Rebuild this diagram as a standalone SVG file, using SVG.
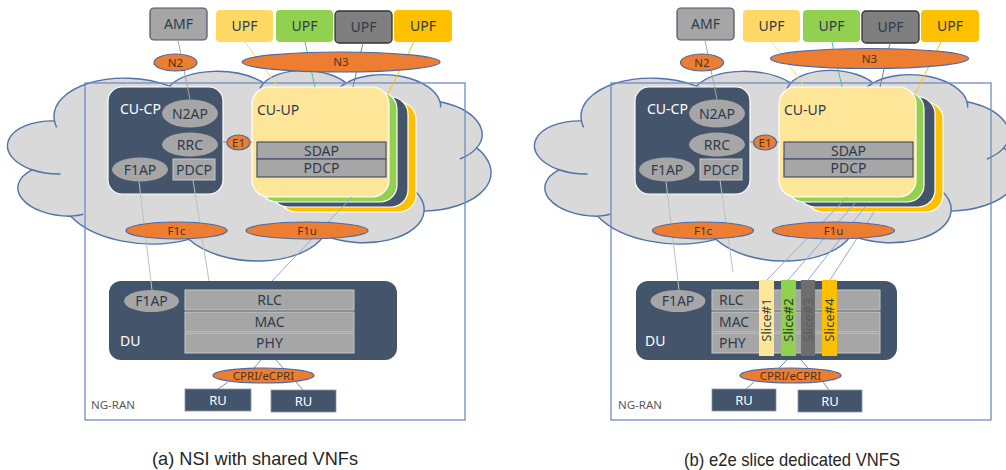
<svg xmlns="http://www.w3.org/2000/svg" width="1006" height="470" viewBox="0 0 1006 470">
  <defs>
    <style>
      text { font-family: "Noto Sans", "DejaVu Sans", sans-serif; }
      .cloud { fill: #d9d9d9; stroke: #4f72aa; stroke-width: 1.4; vector-effect: non-scaling-stroke; }
      .cloudin { fill: none; stroke: #4f72aa; stroke-width: 1.4; vector-effect: non-scaling-stroke; }
      .ran { fill: none; stroke: #6f8cc0; stroke-width: 1.3; }
      .ranlbl { font-size: 11.5px; fill: #595959; }
      .dark { fill: #44546a; }
      .box { stroke: #ffffff; stroke-width: 1.2; }
      .grey { fill: #a6a6a6; }
      .layer { fill: #a6a6a6; stroke: #c8c8c8; stroke-width: 1; }
      .layer2 { fill: #a6a6a6; stroke: #44546a; stroke-width: 1.2; }
      .itf { fill: #ed7d31; stroke: #4a6aa5; stroke-width: 1.2; }
      .lbl { font-size: 14px; fill: #2f3b4c; text-anchor: middle; }
      .lbll { font-size: 14px; fill: #2f3b4c; }
      .wl { font-size: 14px; fill: #ffffff; }
      .wc { font-size: 13px; fill: #ffffff; text-anchor: middle; }
      .il { font-size: 11.5px; fill: #4a3420; text-anchor: middle; }
      .sl { font-size: 13px; text-anchor: middle; }
      .cap { font-family: "Liberation Sans", Arial, sans-serif; font-size: 19px; fill: #262626; text-anchor: middle; }
      .ln { fill: none; stroke-width: 1; }
      .cp { stroke: #bfbfbf; }
      .up { stroke: #8faadc; }
      .gr { stroke: #8a8a8a; }
      .ru { stroke: #7f8fa6; }
    </style>
    <!-- office-style cloud outline, drawn in a 43200 x 43200 unit box -->
    <g id="cloud">
      <path class="cloud" d="M3900 14370 A6753 9190 0 0 1 14007 5204 A5333 7267 0 0 1 22458 3432 A4365 5945 0 0 1 29835 2480 A4857 6595 0 0 1 38320 5576 A5333 7273 0 0 1 41821 15460 A6775 9220 0 0 1 37406 30201 A5785 7867 0 0 1 28557 36811 A6752 9215 0 0 1 16483 39266 A7720 10543 0 0 1 5807 35473 A4360 5918 0 0 1 2114 25553 A4345 5945 0 0 1 3900 14370 Z"/>
      <path class="cloudin" d="M4693 26177 A4345 5945 0 0 1 2114 25553 M6928 34899 A4360 5918 0 0 1 5807 35473 M16483 39266 A6752 9215 0 0 1 15814 37523 M28827 34751 A6752 9215 0 0 1 28557 36811 M34129 22954 A5785 7867 0 0 1 37406 30201 M41821 15460 A5333 7273 0 0 1 40372 18137 M38320 5576 A4857 6595 0 0 1 38397 6839 M29078 3952 A4857 6595 0 0 1 29835 2480 M22141 4720 A4365 5945 0 0 1 22458 3432 M14007 5204 A6753 9190 0 0 1 15305 6551 M4127 15789 A6753 9190 0 0 1 3900 14370"/>
    </g>
  </defs>

  <rect width="1006" height="470" fill="#ffffff"/>

  <!-- ===== (a) shared VNFs ===== -->
  <g id="cloud-a"><use href="#cloud" transform="rotate(3 250 163) translate(9 67) scale(0.0111574 0.0044676)"/></g>
  <g id="ngran-a">
    <rect class="ran" x="85" y="83" width="380" height="337"/>
    <text class="ranlbl" x="91" y="409">NG-RAN</text>
  </g>

  <g id="amf-a"><rect x="150" y="8" width="57" height="32" rx="4" fill="#a6a6a6" stroke="#44546a" stroke-width="1.2"/><text class="lbl" x="178.5" y="29">AMF</text></g>
  <g id="upf1-a"><rect x="216" y="10" width="57" height="32" rx="4" fill="#ffd966"/><text class="lbl" x="244.5" y="31">UPF</text></g>
  <g id="upf2-a"><rect x="276" y="10" width="57" height="32" rx="4" fill="#92d050"/><text class="lbl" x="304.5" y="31">UPF</text></g>
  <g id="upf3-a"><rect x="335" y="11" width="57" height="32" rx="4" fill="#7f7f7f" stroke="#333333" stroke-width="1.3"/><text class="lbl" x="363.5" y="32">UPF</text></g>
  <g id="upf4-a"><rect x="394" y="10" width="58" height="32" rx="4" fill="#ffc000"/><text class="lbl" x="423" y="31">UPF</text></g>

  <g id="cucp-a">
    <rect class="dark box" x="108" y="87" width="115" height="107" rx="14"/>
    <text class="wl" x="120" y="113.5">CU-CP</text>
    <ellipse class="grey" cx="190" cy="113.5" rx="28" ry="14"/><text class="lbl" x="190" y="118.5">N2AP</text>
    <ellipse class="grey" cx="190" cy="144.5" rx="28" ry="12"/><text class="lbl" x="190" y="149.5">RRC</text>
    <ellipse class="grey" cx="140" cy="169.5" rx="28" ry="12"/><text class="lbl" x="140" y="174.5">F1AP</text>
    <rect class="layer" x="173" y="159" width="42" height="21"/><text class="lbl" x="194" y="174.5">PDCP</text>
  </g>

  <g id="cuup-a">
    <rect class="box" x="279" y="102" width="137" height="110" rx="17" fill="#ffc000"/>
    <rect class="box" x="271" y="97" width="137" height="110" rx="17" fill="#44546a"/>
    <rect class="box" x="260" y="92" width="137" height="110" rx="17" fill="#92d050"/>
    <rect class="box" x="252" y="87" width="137" height="110" rx="17" fill="#ffe699"/>
    <text class="lbll" x="257" y="114.5">CU-UP</text>
    <rect class="layer2" x="257" y="142" width="129" height="17"/><text class="lbl" x="321.5" y="155.5">SDAP</text>
    <rect class="layer2" x="257" y="159" width="129" height="18"/><text class="lbl" x="321.5" y="173">PDCP</text>
  </g>

  <g id="du-a">
    <rect class="dark" x="109" y="281" width="288" height="79" rx="12"/>
    <ellipse class="grey" cx="151.5" cy="301" rx="27.5" ry="11"/><text class="lbl" x="151.5" y="306">F1AP</text>
    <rect class="layer" x="185" y="290" width="169" height="20"/><text class="lbl" x="269.5" y="305">RLC</text>
    <rect class="layer" x="185" y="312" width="169" height="20"/><text class="lbl" x="269.5" y="327">MAC</text>
    <rect class="layer" x="185" y="333" width="169" height="20"/><text class="lbl" x="269.5" y="348">PHY</text>
    <text class="wl" x="120" y="346">DU</text>
  </g>
  <g id="ru1-a"><rect class="dark" x="185" y="389" width="66" height="22" stroke="#8497b0" stroke-width="0.8"/><text class="wc" x="218" y="405">RU</text></g>
  <g id="ru2-a"><rect class="dark" x="271" y="390" width="65" height="22" stroke="#8497b0" stroke-width="0.8"/><text class="wc" x="303.5" y="406">RU</text></g>

  <g id="connectors-a">
    <line class="ln" stroke="#a6a6a6" x1="178" y1="40" x2="190" y2="99.5"/>
    <line class="ln" stroke="#ffd966" x1="245" y1="42" x2="278" y2="87"/>
    <line class="ln" stroke="#4cc38a" x1="305" y1="42" x2="315" y2="87"/>
    <line class="ln" stroke="#7f7f7f" x1="363" y1="43" x2="353" y2="87"/>
    <line class="ln" stroke="#ffc000" x1="414" y1="42" x2="388" y2="94"/>
    <line class="ln gr" x1="223" y1="142" x2="252" y2="142"/>
    <line class="ln cp" x1="139" y1="181.5" x2="152" y2="290"/>
    <line class="ln cp" x1="193" y1="180" x2="209" y2="281"/>
    <line class="ln up" x1="352" y1="197" x2="272" y2="281"/>
    <line class="ln ru" x1="261" y1="360" x2="254" y2="368"/>
    <line class="ln ru" x1="276" y1="360" x2="283" y2="368"/>
    <line class="ln ru" x1="228" y1="382" x2="218" y2="389"/>
    <line class="ln ru" x1="296" y1="382" x2="303" y2="390"/>
  </g>

  <g id="n2-a"><ellipse class="itf" cx="175.5" cy="62.5" rx="21.5" ry="8.5"/><text class="il" x="175.5" y="66.5">N2</text></g>
  <g id="n3-a"><ellipse class="itf" cx="341" cy="62" rx="99" ry="10"/><text class="il" x="341" y="66">N3</text></g>
  <g id="e1-a"><ellipse class="itf" cx="238.5" cy="142.5" rx="11.5" ry="7.5"/><text class="il" x="238.5" y="147">E1</text></g>
  <g id="f1c-a"><ellipse class="itf" cx="176.5" cy="230.5" rx="50.5" ry="8.5"/><text class="il" x="176.5" y="235">F1c</text></g>
  <g id="f1u-a"><ellipse class="itf" cx="307" cy="230.5" rx="61" ry="8.5"/><text class="il" x="307" y="235">F1u</text></g>
  <g id="cpri-a"><ellipse class="itf" cx="263.5" cy="375.5" rx="50.5" ry="7.5"/><text class="il" x="263.5" y="380">CPRI/eCPRI</text></g>

  <text class="cap" x="255" y="465" textLength="206" lengthAdjust="spacingAndGlyphs">(a) NSI with shared VNFs</text>

  <!-- ===== (b) dedicated slices ===== -->
  <g id="cloud-b"><use href="#cloud" transform="rotate(3 777 163) translate(536 67) scale(0.0111574 0.0044676)"/></g>
  <g id="ngran-b">
    <rect class="ran" x="611" y="83" width="380" height="337"/>
    <text class="ranlbl" x="618" y="409">NG-RAN</text>
  </g>

  <g id="amf-b"><rect x="677" y="8" width="57" height="32" rx="4" fill="#a6a6a6" stroke="#44546a" stroke-width="1.2"/><text class="lbl" x="705.5" y="29">AMF</text></g>
  <g id="upf1-b"><rect x="743" y="10" width="57" height="32" rx="4" fill="#ffd966"/><text class="lbl" x="771.5" y="31">UPF</text></g>
  <g id="upf2-b"><rect x="803" y="10" width="57" height="32" rx="4" fill="#92d050"/><text class="lbl" x="831.5" y="31">UPF</text></g>
  <g id="upf3-b"><rect x="862" y="11" width="57" height="32" rx="4" fill="#7f7f7f" stroke="#333333" stroke-width="1.3"/><text class="lbl" x="890.5" y="32">UPF</text></g>
  <g id="upf4-b"><rect x="921" y="10" width="58" height="32" rx="4" fill="#ffc000"/><text class="lbl" x="950" y="31">UPF</text></g>

  <g id="cucp-b">
    <rect class="dark box" x="635" y="87" width="115" height="107" rx="14"/>
    <text class="wl" x="647" y="113.5">CU-CP</text>
    <ellipse class="grey" cx="717" cy="113.5" rx="28" ry="14"/><text class="lbl" x="717" y="118.5">N2AP</text>
    <ellipse class="grey" cx="717" cy="144.5" rx="28" ry="12"/><text class="lbl" x="717" y="149.5">RRC</text>
    <ellipse class="grey" cx="667" cy="169.5" rx="28" ry="12"/><text class="lbl" x="667" y="174.5">F1AP</text>
    <rect class="layer" x="700" y="159" width="42" height="21"/><text class="lbl" x="721" y="174.5">PDCP</text>
  </g>

  <g id="cuup-b">
    <rect class="box" x="806" y="102" width="137" height="110" rx="17" fill="#ffc000"/>
    <rect class="box" x="798" y="97" width="137" height="110" rx="17" fill="#44546a"/>
    <rect class="box" x="787" y="92" width="137" height="110" rx="17" fill="#92d050"/>
    <rect class="box" x="779" y="87" width="137" height="110" rx="17" fill="#ffe699"/>
    <text class="lbll" x="784" y="114.5">CU-UP</text>
    <rect class="layer2" x="784" y="142" width="129" height="17"/><text class="lbl" x="848.5" y="155.5">SDAP</text>
    <rect class="layer2" x="784" y="159" width="129" height="18"/><text class="lbl" x="848.5" y="173">PDCP</text>
  </g>

  <g id="du-b">
    <rect class="dark" x="636" y="281" width="261" height="79" rx="12"/>
    <ellipse class="grey" cx="678" cy="301" rx="27.5" ry="11"/><text class="lbl" x="678" y="306">F1AP</text>
    <rect class="layer" x="712" y="290" width="168" height="20"/><text class="lbll" x="719" y="305">RLC</text>
    <rect class="layer" x="712" y="312" width="168" height="20"/><text class="lbll" x="719" y="327">MAC</text>
    <rect class="layer" x="712" y="333" width="168" height="20"/><text class="lbll" x="719" y="348">PHY</text>
    <text class="wl" x="645" y="346">DU</text>
  </g>
  <g id="slice1"><rect x="759" y="280" width="15" height="76" fill="#ffe699"/><text class="sl" fill="#333f50" transform="translate(766.5,320) rotate(-90)" y="4.5">Slice#1</text></g>
  <g id="slice2"><rect x="781" y="280" width="15" height="76" fill="#92d050"/><text class="sl" fill="#2a3a2a" transform="translate(788.5,320) rotate(-90)" y="4.5">Slice#2</text></g>
  <g id="slice3"><rect x="801" y="280" width="14" height="76" fill="#6e6e6e"/><text class="sl" fill="#5c5c5c" transform="translate(808,320) rotate(-90)" y="4.5">Slice#3</text></g>
  <g id="slice4"><rect x="822" y="280" width="15" height="76" fill="#ffc000"/><text class="sl" fill="#333f50" transform="translate(829.5,320) rotate(-90)" y="4.5">Slice#4</text></g>
  <g id="ru1-b"><rect class="dark" x="712" y="389" width="64" height="22" stroke="#8497b0" stroke-width="0.8"/><text class="wc" x="744" y="405">RU</text></g>
  <g id="ru2-b"><rect class="dark" x="798" y="390" width="64" height="22" stroke="#8497b0" stroke-width="0.8"/><text class="wc" x="830" y="406">RU</text></g>

  <g id="connectors-b">
    <line class="ln" stroke="#a6a6a6" x1="705" y1="40" x2="717" y2="99.5"/>
    <line class="ln" stroke="#ffd966" x1="772" y1="42" x2="805" y2="87"/>
    <line class="ln" stroke="#4cc38a" x1="832" y1="42" x2="842" y2="87"/>
    <line class="ln" stroke="#7f7f7f" x1="890" y1="43" x2="880" y2="87"/>
    <line class="ln" stroke="#ffc000" x1="941" y1="42" x2="915" y2="94"/>
    <line class="ln gr" x1="750" y1="142" x2="779" y2="142"/>
    <line class="ln cp" x1="666" y1="181.5" x2="679" y2="290"/>
    <line class="ln cp" x1="720" y1="180" x2="733" y2="272"/>
    <line class="ln up" x1="847" y1="197" x2="767" y2="280"/>
    <line class="ln up" x1="856" y1="202" x2="788" y2="280"/>
    <line class="ln up" x1="865" y1="207" x2="808" y2="280"/>
    <line class="ln up" x1="874" y1="212" x2="830" y2="280"/>
    <line class="ln ru" x1="787" y1="360" x2="779" y2="368"/>
    <line class="ln ru" x1="801" y1="360" x2="808" y2="368"/>
    <line class="ln ru" x1="754" y1="382" x2="746" y2="389"/>
    <line class="ln ru" x1="823" y1="382" x2="829" y2="390"/>
  </g>

  <g id="n2-b"><ellipse class="itf" cx="702" cy="62.5" rx="21.5" ry="8.5"/><text class="il" x="702" y="66.5">N2</text></g>
  <g id="n3-b"><ellipse class="itf" cx="869.5" cy="58.5" rx="99" ry="10"/><text class="il" x="869.5" y="62.5">N3</text></g>
  <g id="e1-b"><ellipse class="itf" cx="765" cy="142.5" rx="11.5" ry="7.5"/><text class="il" x="765" y="147">E1</text></g>
  <g id="f1c-b"><ellipse class="itf" cx="703" cy="230.5" rx="50.5" ry="8.5"/><text class="il" x="703" y="235">F1c</text></g>
  <g id="f1u-b"><ellipse class="itf" cx="833.5" cy="230.5" rx="61" ry="8.5"/><text class="il" x="833.5" y="235">F1u</text></g>
  <g id="cpri-b"><ellipse class="itf" cx="790.5" cy="375.5" rx="50.5" ry="7.5"/><text class="il" x="790.5" y="380">CPRI/eCPRI</text></g>

  <text class="cap" x="792" y="466" textLength="216" lengthAdjust="spacingAndGlyphs">(b) e2e slice dedicated VNFS</text>
</svg>
